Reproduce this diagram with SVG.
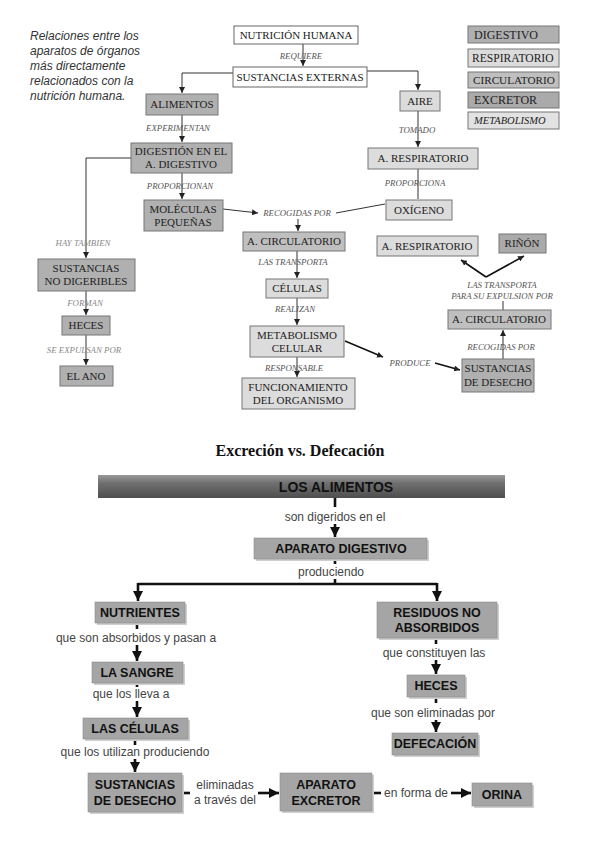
<svg xmlns="http://www.w3.org/2000/svg" width="600" height="848" viewBox="0 0 600 848">
<defs>
<marker id="at" markerUnits="userSpaceOnUse" markerWidth="6" markerHeight="6" refX="6" refY="3" orient="auto"><path d="M0,0 L6,3 L0,6 z" fill="#222"/></marker>
<marker id="ab" markerUnits="userSpaceOnUse" markerWidth="10" markerHeight="10" refX="10" refY="5" orient="auto"><path d="M0,0 L10,5 L0,10 z" fill="#111"/></marker>
<linearGradient id="bar" x1="0" y1="0" x2="0" y2="1"><stop offset="0" stop-color="#9a9a9a"/><stop offset="0.35" stop-color="#707070"/><stop offset="1" stop-color="#4e4e4e"/></linearGradient>
<style>
.tx{font-family:"Liberation Serif",serif;font-size:11px;fill:#222;text-anchor:middle}
.lg{font-family:"Liberation Serif",serif;font-size:12px;fill:#222}
.lb{font-family:"Liberation Serif",serif;font-size:8.8px;font-style:italic;fill:#555;text-anchor:middle}
.lb2{fill:#888}
.wh{fill:#fff;stroke:#666;stroke-width:1}
.dg{fill:#b0b0b0;stroke:#777;stroke-width:1}
.rs{fill:#dcdcdc;stroke:#777;stroke-width:1}
.ci{fill:#bfbfbf;stroke:#777;stroke-width:1}
.ex{fill:#aaaaaa;stroke:#777;stroke-width:1}
.me{fill:#e2e2e2;stroke:#777;stroke-width:1}
.ln{stroke:#333;stroke-width:1;fill:none}
.ln2{stroke:#111;stroke-width:1.6;fill:none}
.bb{fill:#a5a5a5;stroke:#8a8a8a;stroke-width:0.6}
.sh{fill:#cfcfcf}
.bt{font-family:"Liberation Sans",Arial,sans-serif;font-size:12.5px;font-weight:bold;fill:#111;text-anchor:middle}
.bl{font-family:"Liberation Sans",Arial,sans-serif;font-size:12px;fill:#444;text-anchor:middle}
.bk{stroke:#111;stroke-width:2.6;fill:none}
.intro{font-family:"Liberation Sans",Arial,sans-serif;font-size:12px;font-style:italic;fill:#333}
</style>
</defs>
<rect width="600" height="848" fill="#fff"/>

<g id="intro">
<text class="intro" x="30" y="40">Relaciones entre  los</text>
<text class="intro" x="30" y="55">aparatos de  órganos</text>
<text class="intro" x="30" y="70">más  directamente</text>
<text class="intro" x="30" y="85">relacionados con la</text>
<text class="intro" x="30" y="100">nutrición humana.</text>
</g>

<g id="connectors-top">
<path class="ln" d="M303,44 V66" marker-end="url(#at)"/>
<path class="ln" d="M233,73 H182 V93" marker-end="url(#at)"/>
<path class="ln" d="M367,71 H418 V90" marker-end="url(#at)"/>
<path class="ln" d="M182,115 V142" marker-end="url(#at)"/>
<path class="ln" d="M182,173 V199" marker-end="url(#at)"/>
<path class="ln" d="M131,158 H86 V258" marker-end="url(#at)"/>
<path class="ln" d="M86,291 V315" marker-end="url(#at)"/>
<path class="ln" d="M86,335 V365" marker-end="url(#at)"/>
<path class="ln" d="M223,209 L258,213" marker-end="url(#at)"/>
<path class="ln" d="M336,213 L385,204"/>
<path class="ln" d="M298,219 V231" marker-end="url(#at)"/>
<path class="ln" d="M297,251 V278" marker-end="url(#at)"/>
<path class="ln" d="M297,298 V325" marker-end="url(#at)"/>
<path class="ln" d="M297,357 V377" marker-end="url(#at)"/>
<path class="ln2" d="M345,341 L383,357" marker-end="url(#at)"/>
<path class="ln2" d="M435,363 L460,370" marker-end="url(#at)"/>
<path class="ln" d="M503,359 V330" marker-end="url(#at)"/>
<path class="ln" d="M503,301 V310"/>
<path class="ln2" d="M486,277 L461,260" marker-end="url(#at)"/>
<path class="ln2" d="M486,277 L524,256" marker-end="url(#at)"/>
<path class="ln" d="M418,111 V147" marker-end="url(#at)"/>
<path class="ln" d="M418,169 V199"/>
</g>

<g id="labels-top">
<text class="lb" x="301" y="59">REQUIERE</text>
<text class="lb" x="178" y="131">EXPERIMENTAN</text>
<text class="lb" x="180" y="189">PROPORCIONAN</text>
<text class="lb lb2" x="83" y="246">HAY TAMBIEN</text>
<text class="lb lb2" x="85" y="306">FORMAN</text>
<text class="lb lb2" x="84" y="353">SE EXPULSAN  POR</text>
<text class="lb" x="297" y="216">RECOGIDAS POR</text>
<text class="lb" x="293" y="265">LAS TRANSPORTA</text>
<text class="lb" x="295" y="312">REALIZAN</text>
<text class="lb" x="294" y="371">RESPONSABLE</text>
<text class="lb" x="410" y="366">PRODUCE</text>
<text class="lb" x="417" y="133">TOMADO</text>
<text class="lb" x="415" y="186">PROPORCIONA</text>
<text class="lb" x="502" y="288">LAS TRANSPORTA</text>
<text class="lb" x="502" y="299">PARA SU EXPULSION POR</text>
<text class="lb" x="501" y="350">RECOGIDAS POR</text>
</g>

<g id="n-nutricion"><rect class="wh" x="234" y="26" width="124" height="18"/><text class="tx" x="296" y="39">NUTRICIÓN HUMANA</text></g>
<g id="n-sustext"><rect class="wh" x="233" y="67" width="134" height="20"/><text class="tx" x="300" y="81">SUSTANCIAS EXTERNAS</text></g>
<g id="n-alimentos"><rect class="dg" x="146" y="94" width="72" height="21"/><text class="tx" x="182" y="108">ALIMENTOS</text></g>
<g id="n-aire"><rect class="rs" x="400" y="91" width="40" height="20"/><text class="tx" x="420" y="105">AIRE</text></g>
<g id="n-digestion"><rect class="dg" x="131" y="143" width="101" height="30"/><text class="tx" x="181" y="155">DIGESTIÓN EN EL</text><text class="tx" x="181" y="168">A. DIGESTIVO</text></g>
<g id="n-moleculas"><rect class="dg" x="144" y="200" width="79" height="31"/><text class="tx" x="183" y="213">MOLÉCULAS</text><text class="tx" x="183" y="226">PEQUEÑAS</text></g>
<g id="n-nodig"><rect class="dg" x="38" y="259" width="97" height="32"/><text class="tx" x="86" y="272">SUSTANCIAS</text><text class="tx" x="86" y="285">NO DIGERIBLES</text></g>
<g id="n-heces1"><rect class="dg" x="62" y="316" width="48" height="19"/><text class="tx" x="86" y="329">HECES</text></g>
<g id="n-ano"><rect class="dg" x="60" y="366" width="53" height="20"/><text class="tx" x="86" y="380">EL ANO</text></g>
<g id="n-resp1"><rect class="rs" x="368" y="148" width="110" height="21"/><text class="tx" x="423" y="162">A. RESPIRATORIO</text></g>
<g id="n-oxigeno"><rect class="rs" x="386" y="200" width="66" height="20"/><text class="tx" x="419" y="214">OXÍGENO</text></g>
<g id="n-circ1"><rect class="ci" x="243" y="232" width="102" height="19"/><text class="tx" x="294" y="245">A. CIRCULATORIO</text></g>
<g id="n-celulas"><rect class="rs" x="266" y="279" width="62" height="19"/><text class="tx" x="297" y="292">CÉLULAS</text></g>
<g id="n-metab"><rect class="rs" x="250" y="326" width="94" height="31"/><text class="tx" x="297" y="339">METABOLISMO</text><text class="tx" x="297" y="352">CELULAR</text></g>
<g id="n-funcion"><rect class="rs" x="242" y="378" width="113" height="31"/><text class="tx" x="298" y="391">FUNCIONAMIENTO</text><text class="tx" x="298" y="404">DEL ORGANISMO</text></g>
<g id="n-resp2"><rect class="rs" x="377" y="236" width="101" height="20"/><text class="tx" x="427" y="250">A. RESPIRATORIO</text></g>
<g id="n-rinon"><rect class="ex" x="499" y="234" width="47" height="19"/><text class="tx" x="522" y="247">RIÑÓN</text></g>
<g id="n-circ2"><rect class="ci" x="448" y="310" width="103" height="19"/><text class="tx" x="499" y="323">A. CIRCULATORIO</text></g>
<g id="n-desecho1"><rect class="dg" x="462" y="359" width="72" height="33"/><text class="tx" x="498" y="372">SUSTANCIAS</text><text class="tx" x="498" y="386">DE DESECHO</text></g>

<g id="legend">
<rect class="dg" x="468" y="26" width="91" height="17"/><text class="lg" x="474" y="39">DIGESTIVO</text>
<rect class="rs" x="468" y="49" width="91" height="18"/><text class="lg" x="472" y="62" style="font-size:11.6px">RESPIRATORIO</text>
<rect class="ci" x="468" y="72" width="91" height="16"/><text class="lg" x="473" y="84" style="font-size:11.2px">CIRCULATORIO</text>
<rect class="ex" x="468" y="92" width="91" height="16"/><text class="lg" x="474" y="104">EXCRETOR</text>
<rect class="me" x="468" y="112" width="91" height="17"/><text class="lg" x="474" y="124" style="font-style:italic;font-size:10.5px">METABOLISMO</text>
</g>

<text id="title" x="300" y="456" style="font-family:'Liberation Serif',serif;font-size:16px;font-weight:bold;fill:#111;text-anchor:middle">Excreción vs. Defecación</text>

<g id="connectors-bottom">
<path class="bk" d="M335,498 V507"/>
<path class="bk" d="M335,524 V537" marker-end="url(#ab)"/>
<path class="bk" d="M335,560 V564"/>
<path class="bk" d="M335,579 V584 M138,584 H437"/>
<path class="bk" d="M138,583 V601" marker-end="url(#ab)"/>
<path class="bk" d="M437,583 V601" marker-end="url(#ab)"/>
<path class="bk" d="M137,624 V629"/>
<path class="bk" d="M137,645 V661" marker-end="url(#ab)"/>
<path class="bk" d="M137,684 V687"/>
<path class="bk" d="M137,701 V717" marker-end="url(#ab)"/>
<path class="bk" d="M135,740 V745"/>
<path class="bk" d="M135,759 V772" marker-end="url(#ab)"/>
<path class="bk" d="M183,793 H190"/>
<path class="bk" d="M258,793 H279" marker-end="url(#ab)"/>
<path class="bk" d="M373,793 H381"/>
<path class="bk" d="M451,793 H471" marker-end="url(#ab)"/>
<path class="bk" d="M436,639 V644"/>
<path class="bk" d="M436,660 V674" marker-end="url(#ab)"/>
<path class="bk" d="M436,698 V703"/>
<path class="bk" d="M436,720 V732" marker-end="url(#ab)"/>
</g>

<g id="labels-bottom">
<text class="bl" x="335" y="521">son digeridos en el</text>
<text class="bl" x="331" y="576">produciendo</text>
<text class="bl" x="136" y="642">que son absorbidos y pasan a</text>
<text class="bl" x="131" y="698">que los lleva a</text>
<text class="bl" x="135" y="756">que los utilizan produciendo</text>
<text class="bl" x="225" y="789">eliminadas</text>
<text class="bl" x="225" y="804">a través del</text>
<text class="bl" x="416" y="797">en forma de</text>
<text class="bl" x="434" y="657">que constituyen las</text>
<text class="bl" x="433" y="717">que son eliminadas por</text>
</g>

<g id="n-losalimentos"><rect x="98" y="475" width="407" height="23" fill="url(#bar)"/><text class="bt" x="336" y="492" style="font-size:14px">LOS ALIMENTOS</text></g>
<g id="n-apdig"><rect class="sh" x="256" y="540" width="173" height="21"/><rect class="bb" x="254" y="538" width="173" height="21"/><text class="bt" x="341" y="553">APARATO DIGESTIVO</text></g>
<g id="n-nutrientes"><rect class="sh" x="97" y="604" width="90" height="21"/><rect class="bb" x="95" y="602" width="90" height="21"/><text class="bt" x="140" y="617">NUTRIENTES</text></g>
<g id="n-sangre"><rect class="sh" x="94" y="664" width="91" height="21"/><rect class="bb" x="92" y="662" width="91" height="21"/><text class="bt" x="137" y="677">LA SANGRE</text></g>
<g id="n-celulas2"><rect class="sh" x="85" y="720" width="105" height="21"/><rect class="bb" x="83" y="718" width="105" height="21"/><text class="bt" x="135" y="733">LAS CÉLULAS</text></g>
<g id="n-desecho2"><rect class="sh" x="90" y="775" width="94" height="39"/><rect class="bb" x="88" y="773" width="94" height="39"/><text class="bt" x="135" y="789">SUSTANCIAS</text><text class="bt" x="135" y="805">DE DESECHO</text></g>
<g id="n-excretor"><rect class="sh" x="282" y="775" width="92" height="38"/><rect class="bb" x="280" y="773" width="92" height="38"/><text class="bt" x="326" y="789">APARATO</text><text class="bt" x="326" y="805">EXCRETOR</text></g>
<g id="n-orina"><rect class="sh" x="474" y="785" width="60" height="23"/><rect class="bb" x="472" y="783" width="60" height="23"/><text class="bt" x="502" y="799">ORINA</text></g>
<g id="n-residuos"><rect class="sh" x="379" y="604" width="120" height="36"/><rect class="bb" x="377" y="602" width="120" height="36"/><text class="bt" x="437" y="617">RESIDUOS NO</text><text class="bt" x="437" y="632">ABSORBIDOS</text></g>
<g id="n-heces2"><rect class="sh" x="409" y="677" width="58" height="22"/><rect class="bb" x="407" y="675" width="58" height="22"/><text class="bt" x="436" y="690">HECES</text></g>
<g id="n-defecacion"><rect class="sh" x="394" y="735" width="86" height="22"/><rect class="bb" x="392" y="733" width="86" height="22"/><text class="bt" x="435" y="748">DEFECACIÓN</text></g>
</svg>
